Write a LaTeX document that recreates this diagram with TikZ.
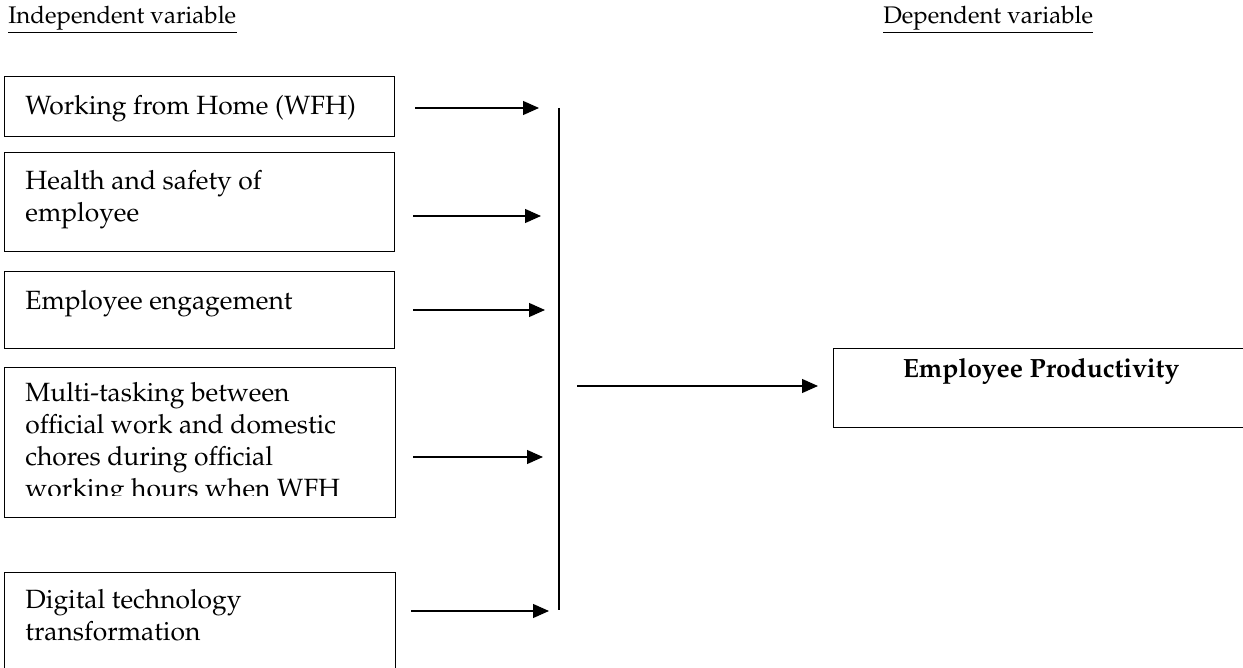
\documentclass[tikz,border=0pt]{standalone}
\usepackage[T1]{fontenc}
\usepackage{mathpazo}
\usetikzlibrary{arrows.meta}
\begin{document}
\begin{tikzpicture}[x=0.5pt,y=-0.5pt,
  box/.style={draw, line width=0.7pt, inner sep=0pt, anchor=north west},
  lbl/.style={anchor=base west, inner sep=0pt, align=left, font=\fontsize{13.2}{16}\selectfont},
  head/.style={anchor=base west, inner sep=0pt, font=\fontsize{12}{14}\selectfont},
  uline/.style={line width=0.6pt},
  link/.style={line width=0.6pt, -{Triangle[length=8pt,width=7pt]}},
  bar/.style={line width=0.6pt}
]
\useasboundingbox (0,0) rectangle (1243,668);
\begin{scope}
\clip (0,0) rectangle (1243,668);
% headings
\node[head] (iv) at (8,24) {Independent variable};
\node[head] (dv) at (883,24) {Dependent variable};
\draw[uline] ([yshift=-0.6pt]iv.south west) -- ([yshift=-0.6pt]iv.south east);
\draw[uline] ([yshift=-0.6pt]dv.south west) -- ([yshift=-0.6pt]dv.south east);
% boxes
\node[box, minimum width=195pt, minimum height=30pt] (b1) at (4,76) {};
\node[box, minimum width=195pt, minimum height=49.5pt] (b2) at (4,152) {};
\node[box, minimum width=195pt, minimum height=38.5pt] (b3) at (4,271) {};
\node[box, minimum width=195.5pt, minimum height=75pt] (b4) at (4,367) {};
\node[box, minimum width=195.5pt, minimum height=66pt] (b5) at (4,572) {};
\node[box, minimum width=210pt, minimum height=39.5pt] (ep) at (833,348) {};
% texts (multi-line nodes anchored at the baseline of their last line)
\node[lbl] (t1) at (25,115) {Working from Home (WFH)};
\node[lbl] (t2) at (25,222) {Health and safety of\\employee};
\node[lbl] (t3) at (25,310) {Employee engagement};
\begin{scope}
\clip (4,367) rectangle (396,495);
\node[lbl] (t4) at (25,497) {Multi-tasking between\\official work and domestic\\chores during official\\working hours when WFH};
\end{scope}
\node[lbl] (t5) at (25,640) {Digital technology\\transformation};
\node[anchor=base, inner sep=0pt, font=\fontsize{13.2}{16}\selectfont\bfseries] (tep) at (1041,378) {Employee Productivity};
% connectors
\coordinate (a1s) at (415,108); \coordinate (a1e) at (539,108);
\coordinate (a2s) at (413,216); \coordinate (a2e) at (541,216);
\coordinate (a3s) at (413,310); \coordinate (a3e) at (545,310);
\coordinate (a4s) at (413,457); \coordinate (a4e) at (543,457);
\coordinate (a5s) at (411,611); \coordinate (a5e) at (549,611);
\coordinate (vt) at (559,108); \coordinate (vb) at (559,610);
\coordinate (ms) at (577,386); \coordinate (me) at (818,386);
\draw[link] (a1s) -- (a1e);
\draw[link] (a2s) -- (a2e);
\draw[link] (a3s) -- (a3e);
\draw[link] (a4s) -- (a4e);
\draw[link] (a5s) -- (a5e);
\draw[bar] (vt) -- (vb);
\draw[link] (ms) -- (me);
\end{scope}
\end{tikzpicture}
\end{document}
